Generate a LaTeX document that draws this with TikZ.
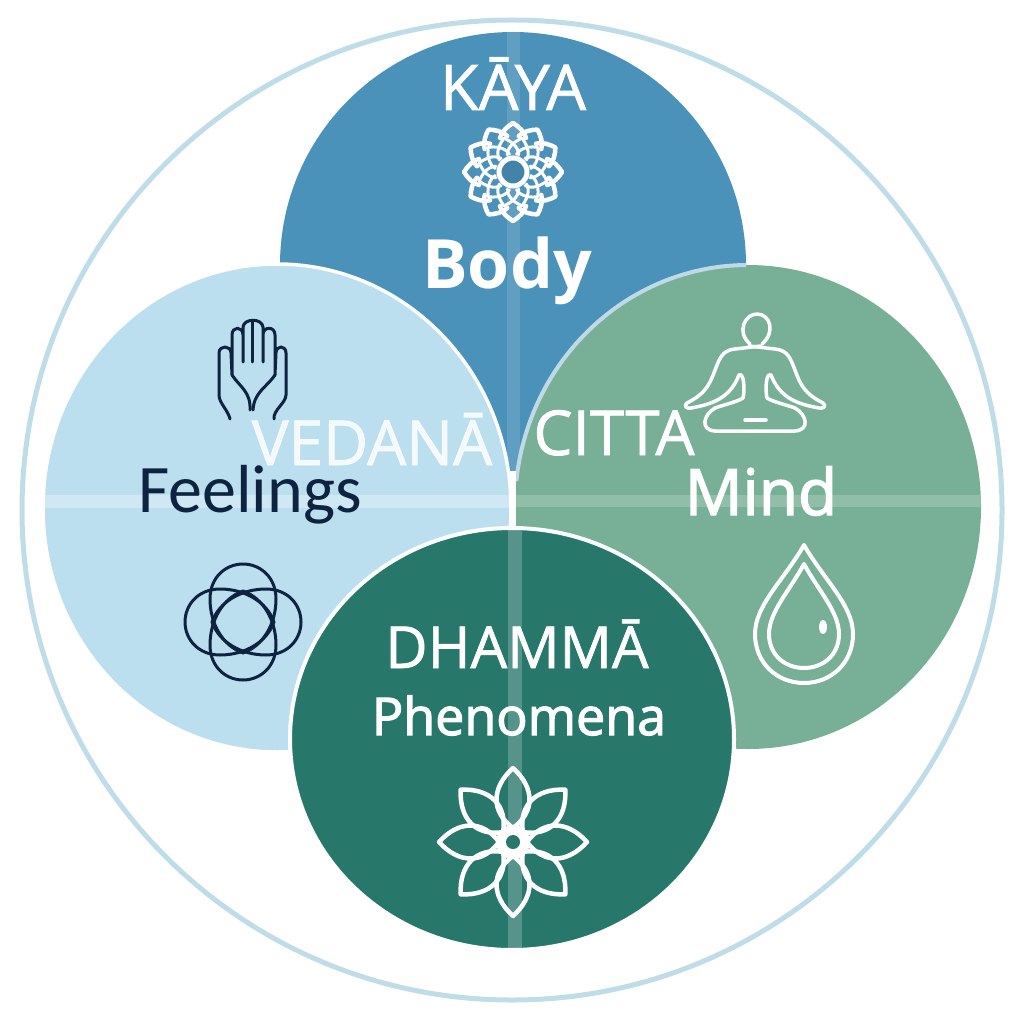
\documentclass[tikz,border=0pt]{standalone}
\usepackage{fontspec}
\setmainfont{Open Sans}
\newfontfamily\feelfont{Carlito}
\newfontfamily\medfont[RawFeature={embolden=1.2}]{Open Sans}
\newfontfamily\semifont[RawFeature={embolden=2.2}]{Open Sans}
\usepackage{tikz}
\definecolor{ringblue}{HTML}{BFDDE8}
\definecolor{kayablue}{HTML}{4A92BA}
\definecolor{vedanablue}{HTML}{BBDFEF}
\definecolor{cittagreen}{HTML}{78B097}
\definecolor{dhammagreen}{HTML}{27776B}
\definecolor{inknavy}{HTML}{0D2340}
\tikzset{
    wordtxt/.style={anchor=base, inner sep=0pt, text=white},
    whiteicon/.style={draw=white, line width=4pt, line join=round, line cap=round},
    navyicon/.style={draw=inknavy, line width=3pt, line join=round, line cap=round},
    band/.style={fill=white, fill opacity=0.12}
}
\newcommand{\pxsize}[1]{\fontsize{#1}{#1}\selectfont}
\begin{document}
\begin{tikzpicture}[x=1pt,y=-1pt]
    \useasboundingbox (0,0) rectangle (1024,1024);
    \fill[white] (0,0) rectangle (1024,1024);
    \draw[ringblue, line width=5pt] (512,510) circle [x radius=490, y radius=490];

    \begin{scope}
        \clip (200,0) rectangle (820,471);
        \fill[kayablue] (513,265) circle [x radius=233, y radius=233];
        \begin{scope}
            \clip (513,265) circle [x radius=233, y radius=233];
            \fill[band] (507,0) rectangle (520,480);
        \end{scope}
    \end{scope}

    \fill[cittagreen] (748,507) circle [x radius=233, y radius=242];
    \begin{scope}
        \clip (748,507) circle [x radius=233, y radius=242];
        \fill[band, fill opacity=0.18] (500,495) rectangle (990,507);
    \end{scope}
    \begin{scope}
        \clip (500,250) rectangle (746,480);
        \draw[white!65!kayablue, line width=4pt] (748,507) circle [x radius=233, y radius=242];
    \end{scope}

    \fill[vedanablue] (277,508) circle [x radius=234, y radius=244];
    \begin{scope}
        \clip (277,508) circle [x radius=234, y radius=244];
        \fill[band, fill opacity=0.3] (30,495) rectangle (520,508);
    \end{scope}
    \draw[white, line width=3.5pt] (277,508) circle [x radius=234, y radius=244];
    \fill[white] (510,471) rectangle (516,535);

    \fill[dhammagreen] (512,739) circle [x radius=222, y radius=211];
    \begin{scope}
        \clip (512,739) circle [x radius=222, y radius=211];
        \fill[band, fill opacity=0.22] (508,520) rectangle (522,950);
    \end{scope}
    \draw[white, line width=4pt] (512,739) circle [x radius=222, y radius=211];

    \node[wordtxt] (kaya) at (513,110) {\medfont\pxsize{63}KĀYA};
    \node[wordtxt] (body) at (507,288) {\pxsize{68}\bfseries Body};
    \node[wordtxt, text opacity=0.85] (vedana) at (372,465) {\medfont\pxsize{62}VEDANĀ};
    \node[wordtxt, text=inknavy] (feelings) at (250,512) {\feelfont\pxsize{68}Feelings};
    \node[wordtxt] (citta) at (614,455) {\medfont\pxsize{62}CITTA};
    \node[wordtxt] (mind) at (761,515) {\semifont\pxsize{64}Mind};
    \node[wordtxt] (dhamma) at (517,668) {\medfont\pxsize{58}DHAMMĀ};
    \node[wordtxt] (phenomena) at (519,735) {\semifont\pxsize{52}Phenomena};

    % mandala
    \begin{scope}[shift={(513,172)}]
        \foreach \a in {15,45,...,345}
            \draw[whiteicon, line width=3pt, rotate=\a] (-10,-15) .. controls (-12,-24) and (-5,-31) .. (0,-35)
                .. controls (5,-31) and (12,-24) .. (10,-15);
        \foreach \a in {0,30,...,330}
            \draw[whiteicon, line width=4.5pt, rotate=\a] (-13,-34) .. controls (-12,-40) and (-5,-46) .. (0,-49)
                .. controls (5,-46) and (12,-40) .. (13,-34);
        \draw[white, fill=kayablue!90!black, line width=5pt] (0,0) circle [radius=14];
    \end{scope}

    % hand
    \draw[navyicon] (230,419) .. controls (228,410) and (219,403) .. (219,395) -- (219,353)
        .. controls (219,345) and (231,345) .. (231,353) -- (232,375) -- (232,335)
        .. controls (232,326) and (243,326) .. (243,335) -- (243,362) (243,362) -- (243,327)
        .. controls (244,318) and (262,318) .. (263,327) -- (263,362) (263,335)
        .. controls (263,326) and (275,326) .. (275,335) -- (275,375) -- (276,353)
        .. controls (276,345) and (286,345) .. (286,353) -- (286,395)
        .. controls (286,403) and (273,410) .. (274,419);
    \draw[navyicon] (252,322) -- (252,362);
    \draw[navyicon] (232,375) .. controls (240,387) and (251,392) .. (250,410);
    \draw[navyicon] (275,375) .. controls (267,387) and (254,392) .. (253,410);

    % rings
    \begin{scope}[shift={(243,622)}]
        \foreach \a in {0,90,180,270}
            \draw[navyicon, rotate=\a] (0,31) .. controls (-20,24) and (-33,2) .. (-33,-23)
                .. controls (-33,-45) and (-17,-58) .. (0,-58) .. controls (17,-58) and (33,-45) .. (33,-23)
                .. controls (33,2) and (20,24) .. (0,31) -- cycle;
    \end{scope}

    % sitting figure
    \draw[whiteicon, line width=3.5pt] (750,344) .. controls (736,332) and (745,314) .. (757,314)
        .. controls (770,314) and (776,332) .. (762,344);
    \foreach \s in {1,-1} {
        \begin{scope}[shift={(755,0)}, xscale=\s]
            \draw[whiteicon, line width=3.5pt] (-6,346) -- (20,349) .. controls (30,350) and (34,355) .. (38,365)
                .. controls (44,380) and (46,392) .. (68,403) .. controls (72,406) and (68,409) .. (64,408)
                .. controls (42,404) and (25,398) .. (16,375) .. controls (11,372) and (10,390) .. (12,398)
                .. controls (18,402) and (32,405) .. (40,408);
            \draw[whiteicon, line width=3.5pt] (40,408) .. controls (52,415) and (55,430) .. (40,431) -- (0,431);
        \end{scope}
    }
    \draw[whiteicon, line width=3.5pt] (745,420) -- (766,420);

    % drop
    \draw[whiteicon] (804,545) .. controls (784,580) and (755,605) .. (755,634)
        .. controls (755,663) and (777,683) .. (804,683) .. controls (831,683) and (853,663) .. (853,634)
        .. controls (853,605) and (824,580) .. (804,545) -- cycle;
    \draw[whiteicon] (804,564) .. controls (790,590) and (769,612) .. (769,634)
        .. controls (769,655) and (785,668) .. (804,668) .. controls (823,668) and (839,655) .. (839,634)
        .. controls (839,612) and (818,590) .. (804,564) -- cycle;
    \fill[white] (823,627) circle [x radius=4, y radius=7];

    % flower
    \begin{scope}[shift={(513,842)}]
        \foreach \a in {0,45,...,315}
            \draw[whiteicon, line width=4.5pt, rotate=\a] (0,-14) .. controls (-22,-30) and (-22,-54) .. (0,-74)
                .. controls (22,-54) and (22,-30) .. (0,-14) -- cycle;
        \fill[white] (0,0) circle [radius=17];
        \fill[dhammagreen] (0,0) circle [radius=7];
    \end{scope}
\end{tikzpicture}
\end{document}
